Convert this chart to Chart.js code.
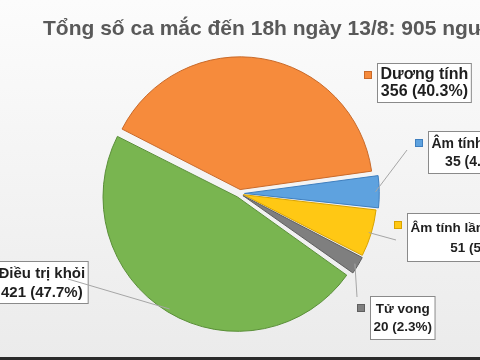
<!DOCTYPE html>
<html>
<head>
<meta charset="utf-8">
<script src="https://cdn.jsdelivr.net/npm/chart.js@4.4.0/dist/chart.umd.min.js"></script>
<style>
  html, body { margin: 0; padding: 0; background: #f3f3f3; }
  #wrap { width: 480px; height: 360px; position: relative; overflow: hidden; }
</style>
</head>
<body>
<div id="wrap"><canvas id="pieChart" width="480" height="360"></canvas></div>
<script>
// DATA
const chartTitle = 'Tổng số ca mắc đến 18h ngày 13/8: 905 người';
const categories = ['Dương tính', 'Âm tính lần 3', 'Âm tính lần 1 và lần 2', 'Tử vong', 'Điều trị khỏi'];
const caseCounts = [356, 35, 51, 20, 421];

// STYLE
const sliceColors = ['#F68B3C', '#5EA2DF', '#FFC814', '#7F7F7F', '#79B550'];
const sliceBorders = ['#C96A2A', '#3F7FBF', '#D9A300', '#5F5F5F', '#5A8F38'];
const sliceOffsets = [4, 5, 4, 4, 4]; // px, chart.js v4 draws offset / 4

// callout boxes (label placement only), width comes from the text
const boxLayout = [
    { left: 377, top: 63, height: 39, font: 16, pitch: 17, leader: null },
    { left: 428, top: 131, height: 42, font: 14, pitch: 18, leader: [407, 150] },
    { left: 407, top: 213, height: 48, font: 13.5, pitch: 20, leader: [396, 240] },
    { left: 370, top: 296, height: 43, font: 13.5, pitch: 18, leader: [357, 297] },
    { left: -5, top: 261, height: 42, font: 15, pitch: 19, leader: [68, 279] }
];

const total = caseCounts.reduce((a, b) => a + b, 0);

// 1. BACKGROUND + TITLE
const backdrop = {
    id: 'backdrop',
    beforeDraw(chart) {
        const { ctx, width, height } = chart;
        const g = ctx.createLinearGradient(0, 0, 0, height);
        g.addColorStop(0, '#fcfcfc');
        g.addColorStop(1, '#ebebeb');
        ctx.save();
        ctx.fillStyle = g;
        ctx.fillRect(0, 0, width, height);
        ctx.fillStyle = '#2b2b2b';
        ctx.fillRect(0, height - 3, width, 3);
        ctx.font = 'bold 21px "Liberation Sans", Arial, sans-serif';
        ctx.fillStyle = '#595959';
        ctx.textBaseline = 'alphabetic';
        ctx.fillText(chartTitle, 43, 35);
        ctx.restore();
    }
};

// 2. CALLOUTS
const callouts = {
    id: 'callouts',
    afterDatasetsDraw(chart) {
        const { ctx } = chart;
        const arcs = chart.getDatasetMeta(0).data;
        ctx.save();
        arcs.forEach((arc, i) => {
            const box = boxLayout[i];
            const mid = (arc.startAngle + arc.endAngle) / 2;
            const off = sliceOffsets[i];
            const pct = (caseCounts[i] / total * 100).toFixed(1);
            const lines = [categories[i], caseCounts[i] + ' (' + pct + '%)'];

            ctx.font = 'bold ' + box.font + 'px "Liberation Sans", Arial, sans-serif';
            const w = Math.max(...lines.map(t => ctx.measureText(t).width)) + 6;

            ctx.fillStyle = '#ffffff';
            ctx.strokeStyle = '#8a8a8a';
            ctx.lineWidth = 1;
            ctx.fillRect(box.left + 0.5, box.top + 0.5, w, box.height);
            ctx.strokeRect(box.left + 0.5, box.top + 0.5, w, box.height);

            // legend key
            ctx.fillStyle = sliceColors[i];
            ctx.strokeStyle = sliceBorders[i];
            ctx.fillRect(box.left - 13, box.top + 8, 7, 7);
            ctx.strokeRect(box.left - 12.5, box.top + 8.5, 7, 7);

            const cx = box.left + 0.5 + w / 2;
            const cy = box.top + 1 + box.height / 2;
            ctx.fillStyle = '#1f1f1f';
            ctx.textAlign = 'center';
            ctx.textBaseline = 'middle';
            ctx.fillText(lines[0], cx, cy - box.pitch / 2);
            ctx.fillText(lines[1], cx, cy + box.pitch / 2);

            if (box.leader) {
                const r = arc.outerRadius + off;
                ctx.strokeStyle = '#a6a6a6';
                ctx.beginPath();
                ctx.moveTo(arc.x + Math.cos(mid) * r, arc.y + Math.sin(mid) * r);
                ctx.lineTo(box.leader[0], box.leader[1]);
                ctx.stroke();
            }
        });
        ctx.restore();
    }
};

// 3. CHART ENGINE
const ctx = document.getElementById('pieChart').getContext('2d');
new Chart(ctx, {
    type: 'pie',
    data: {
        labels: categories,
        datasets: [{
            data: caseCounts,
            backgroundColor: sliceColors,
            borderColor: sliceBorders,
            borderWidth: 1,
            offset: sliceOffsets.map(o => o * 4),
            hoverOffset: 0,
            rotation: -63,
            radius: 131
        }]
    },
    options: {
        responsive: false,
        animation: false,
        devicePixelRatio: 1,
        rotation: -63,
        radius: 131,
        layout: { padding: { left: 90, right: 91, top: 44, bottom: 17 } },
        plugins: {
            legend: { display: false },
            tooltip: { enabled: false },
            title: { display: false }
        }
    },
    plugins: [backdrop, callouts]
});
</script>
</body>
</html>
